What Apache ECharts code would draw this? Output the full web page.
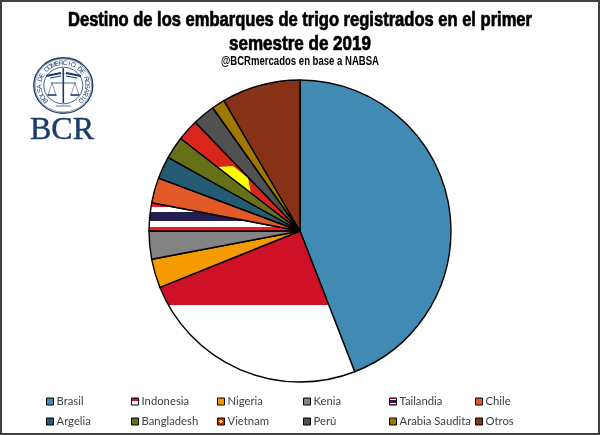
<!DOCTYPE html>
<html><head><meta charset="utf-8">
<style>html,body{margin:0;padding:0;background:#fff}#c{width:600px;height:435px}</style>
<script src="https://cdn.jsdelivr.net/npm/echarts@6/dist/echarts.min.js"></script>
</head><body><div id="c"></div>
<script>
const categories=['Brasil','Indonesia','Nigeria','Kenia','Tailandia','Chile','Argelia','Bangladesh','Vietnam','Perú','Arabia Saudita','Otros'];
const values=[44.1,24.8,3.1,3.0,3.0,2.7,2.4,2.4,2.3,2.4,1.4,8.4];
const colors=['#418AB3','#CE1126','#F59B00','#838383','#241D4F','#E15A28','#255A73','#667019','#DA251D','#515151','#A07800','#873216'];
const titleLines=['Destino de los embarques de trigo registrados en el primer','semestre de 2019'];
const subtitleText='@BCRmercados en base a NABSA';
const legendColumns=[[0,6],[1,7],[2,8],[3,9],[4,10],[5,11]];
const legendLefts=[46,131,217,303,389,475];

function bands(stops,global,y,y2){
  const colorStops=[];
  stops.forEach(s=>{colorStops.push({offset:s[0],color:s[2]},{offset:s[1],color:s[2]});});
  return global?{type:'linear',x:0,y:y,x2:0,y2:y2,global:true,colorStops}:{type:'linear',x:0,y:0,x2:0,y2:1,colorStops};
}
const indoBands=[[0,.5,'#CE1126'],[.5,1,'#FFFFFF']];
const thaiBands=[[0,.16,'#ED1C24'],[.16,.33,'#FFFFFF'],[.33,.66,'#241D4F'],[.66,.84,'#FFFFFF'],[.84,1,'#ED1C24']];
const vnCanvas=document.createElement('canvas');vnCanvas.width=600;vnCanvas.height=435;
const vx=vnCanvas.getContext('2d');vx.fillStyle='#DA251D';vx.fillRect(0,0,600,435);
vx.fillStyle='#FFFF00';vx.beginPath();
[[217,167],[233,166],[248,178],[251,193],[238,200],[215,180]].forEach((p,i)=>i?vx.lineTo(p[0],p[1]):vx.moveTo(p[0],p[1]));
vx.closePath();vx.fill();

const sliceFill=i=>{
  if(categories[i]==='Indonesia')return bands(indoBands,true,231,379);
  if(categories[i]==='Tailandia')return bands(thaiBands,true,203,231);
  if(categories[i]==='Vietnam')return {image:vnCanvas,repeat:'no-repeat'};
  return colors[i];
};
const iconFill=i=>{
  if(categories[i]==='Indonesia')return bands(indoBands,false);
  if(categories[i]==='Tailandia')return bands(thaiBands,false);
  if(categories[i]==='Vietnam')return {type:'radial',x:.5,y:.5,r:.5,colorStops:[{offset:0,color:'#FFFF00'},{offset:.45,color:'#FFFF00'},{offset:.45,color:'#DA251D'},{offset:1,color:'#DA251D'}]};
  return colors[i];
};

const measure=document.createElement('canvas').getContext('2d');
const fitText=(text,font,target,y,stroke)=>{
  measure.font=font;
  return {type:'text',x:300,y,scaleX:target/measure.measureText(text).width,z:50,
    style:{text,font,fill:'#000',stroke:stroke?'#000':null,lineWidth:stroke,align:'center',verticalAlign:'middle'}};
};

const navy='#1A3A6B', sealC=[63.3,85.5], ry=.94;
const seal=[];
[[29.5,1.3],[28.2,.5],[19.5,.8]].forEach(r=>seal.push({type:'ellipse',shape:{cx:sealC[0],cy:sealC[1],rx:r[0],ry:r[0]*ry},style:{fill:'none',stroke:navy,lineWidth:r[1]}}));
const ringText='BOLSA DE COMERCIO DE ROSARIO';
const startA=-132,stepA=264/(ringText.length-1);
[...ringText].forEach((ch,i)=>{
  const a=(startA+i*stepA)*Math.PI/180;
  seal.push({type:'text',x:sealC[0]+23.8*Math.sin(a),y:sealC[1]-23.8*ry*Math.cos(a),rotation:-a,
    style:{text:ch,fill:navy,font:'6.6px "Liberation Sans"',align:'center',verticalAlign:'middle'}});
});
const line=(x1,y1,x2,y2,w)=>({type:'line',shape:{x1,y1,x2,y2},style:{stroke:navy,lineWidth:w||.8}});
seal.push(line(63.3,68,63.3,103,1.6),line(51,83,76,83,.8),line(46,76,61,73,1.8),line(81,76,66,73,1.8),
  line(50,78,61,76,1),line(77,78,66,76,1),
  line(52,83,48,95,.5),line(52,83,56,95,.5),line(75,83,71,95,.5),line(75,83,79,95,.5),
  line(47.5,95,56.5,95,1.6),line(70.5,95,79.5,95,1.6),line(56,106,71,106,.7));
seal.push({type:'text',x:62,y:147,style:{text:'BCR',fill:navy,stroke:navy,lineWidth:.4,font:'32px "Liberation Serif"',align:'center',verticalAlign:'bottom'}});

const chart=echarts.init(document.getElementById('c'),null,{renderer:'canvas'});
chart.setOption({
  animation:false,
  backgroundColor:'#fff',
  legend:legendColumns.map((col,k)=>({
    orient:'vertical',left:legendLefts[k],top:396,padding:0,itemWidth:7,itemHeight:7,itemGap:9,icon:'rect',selectedMode:false,
    textStyle:{fontFamily:'Lato',fontSize:11.3,color:'#404040',padding:[0,0,0,-2]},
    data:col.map(i=>({name:categories[i],icon:'rect',itemStyle:{color:iconFill(i),borderColor:'#000',borderWidth:1}}))
  })),
  series:[{type:'pie',center:[300,231],radius:[0,151],startAngle:90,clockwise:true,silent:true,
    label:{show:false},labelLine:{show:false},emphasis:{disabled:true},
    itemStyle:{borderColor:'#000',borderWidth:1.4},
    data:categories.map((n,i)=>({name:n,value:values[i],itemStyle:{color:sliceFill(i)}}))}],
  graphic:{elements:[
    {type:'rect',shape:{x:1,y:1,width:598,height:433},style:{fill:'none',stroke:'#404040',lineWidth:2},z:100},
    fitText(titleLines[0],'bold 20px "Liberation Sans"',464,20,.7),
    fitText(titleLines[1],'bold 20px "Liberation Sans"',142,44,.7),
    fitText(subtitleText,'bold 12px "Liberation Sans"',158,62,0),
    {type:'group',children:seal}
  ]}
});
</script></body></html>
